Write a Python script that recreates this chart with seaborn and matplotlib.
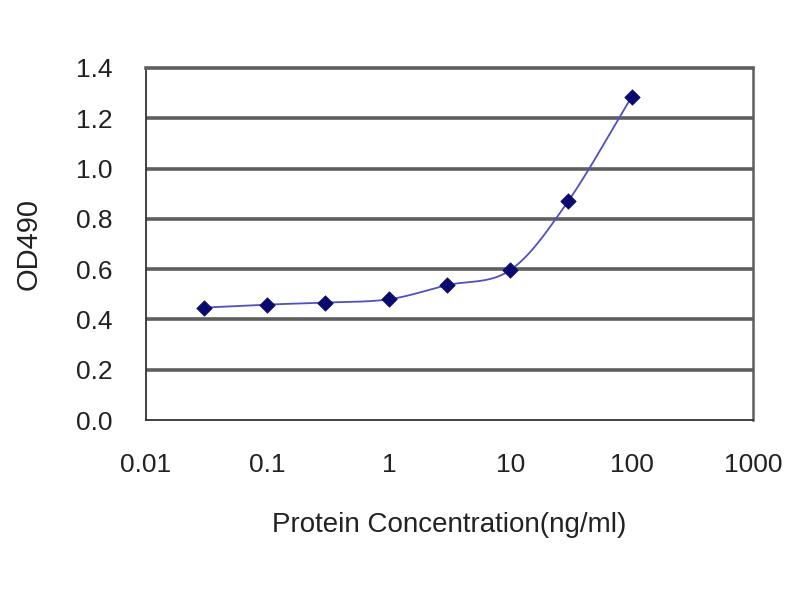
import numpy as np
import pandas as pd
import matplotlib
matplotlib.use("Agg")
import matplotlib.pyplot as plt
import seaborn as sns

# Data
concentration = [0.03, 0.1, 0.3, 1, 3, 10, 30, 100]
od490 = [0.447, 0.459, 0.467, 0.480, 0.536, 0.596, 0.870, 1.285]
x_ticks = [0.01, 0.1, 1, 10, 100, 1000]
x_tick_labels = ["0.01", "0.1", "1", "10", "100", "1000"]
y_ticks = [0.0, 0.2, 0.4, 0.6, 0.8, 1.0, 1.2, 1.4]
y_tick_labels = ["0.0", "0.2", "0.4", "0.6", "0.8", "1.0", "1.2", "1.4"]

sns.set_theme(style="white")
plt.rcParams['font.family'] = ['Liberation Sans', 'DejaVu Sans']

df = pd.DataFrame({"conc": concentration, "od": od490})

# Smoothed connecting line (Catmull-Rom in log-x space, like a spreadsheet smoothed line)
lx = np.log10(df["conc"].to_numpy())
ly = df["od"].to_numpy()
P = np.column_stack([lx, ly])
P_ext = np.vstack([P[0] - (P[1] - P[0]), P, P[-1] + (P[-1] - P[-2])])
seg = []
for i in range(1, len(P_ext) - 2):
    p0, p1, p2, p3 = P_ext[i - 1], P_ext[i], P_ext[i + 1], P_ext[i + 2]
    t = np.linspace(0, 1, 30)[:, None]
    c = 0.5 * ((2 * p1) + (-p0 + p2) * t + (2 * p0 - 5 * p1 + 4 * p2 - p3) * t ** 2
               + (-p0 + 3 * p1 - 3 * p2 + p3) * t ** 3)
    seg.append(c)
curve = np.vstack(seg)
smooth = pd.DataFrame({"conc": 10 ** curve[:, 0], "od": curve[:, 1]})

fig = plt.figure(figsize=(8, 6), dpi=100)
ax = fig.add_axes([0.1825, 0.30, 0.7588, 0.5867])

sns.lineplot(data=smooth, x="conc", y="od", ax=ax, color="#5050c0", linewidth=1.3,
             sort=False, estimator=None)
sns.scatterplot(data=df, x="conc", y="od", ax=ax, marker="D", s=62, color="#0a0a6e",
                edgecolor="#0a0a6e", linewidth=0.5, zorder=5)

ax.set_xscale("log")
ax.set_xlim(0.01, 1000)
ax.set_ylim(0, 1.4)
ax.set_xticks(x_ticks)
ax.set_xticklabels(x_tick_labels)
ax.minorticks_off()
ax.set_yticks(y_ticks)
ax.set_yticklabels(y_tick_labels)

for y in y_ticks[1:-1]:
    ax.axhline(y, color="#5e5e5e", linewidth=2.6, zorder=0)

for side in ["left", "bottom", "right"]:
    ax.spines[side].set_visible(True)
    ax.spines[side].set_color("#333333")
    ax.spines[side].set_linewidth(1.3)
ax.spines["top"].set_visible(True)
ax.spines["top"].set_color("#5e5e5e")
ax.spines["top"].set_linewidth(2.6)
ax.spines["right"].set_color("#5e5e5e")
ax.spines["right"].set_linewidth(1.8)

ax.tick_params(axis="both", direction="in", length=4, width=1, color="#333333",
               labelsize=19, labelcolor="#222222")
ax.tick_params(axis="y", pad=24)
ax.tick_params(axis="x", pad=24)

ax.set_xlabel("Protein Concentration(ng/ml)", fontsize=20, color="#222222", labelpad=25)
ax.set_ylabel("OD490", fontsize=21, color="#222222", labelpad=24)

fig.savefig("out.png", dpi=100, facecolor="white")
